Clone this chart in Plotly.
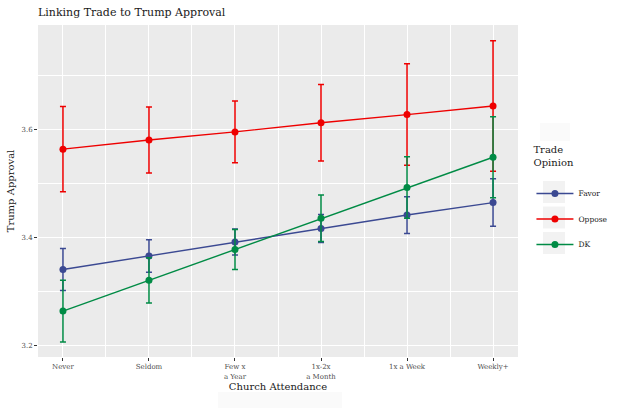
import plotly.graph_objects as go

categories = ["Never", "Seldom", "Few x<br>a Year", "1x-2x<br>a Month", "1x a Week", "Weekly+"]
x_pos = [1, 2, 3, 4, 5, 6]

favor = [3.340, 3.365, 3.391, 3.416, 3.441, 3.464]
favor_err = [0.039, 0.030, 0.024, 0.026, 0.034, 0.044]

oppose = [3.563, 3.580, 3.595, 3.612, 3.627, 3.643]
oppose_err = [0.079, 0.061, 0.057, 0.071, 0.094, 0.121]

dk = [3.263, 3.320, 3.377, 3.435, 3.492, 3.548]
dk_err = [0.057, 0.042, 0.037, 0.043, 0.057, 0.075]

series = [
    ("Favor", favor, favor_err, "#3B4992"),
    ("Oppose", oppose, oppose_err, "#EE0000"),
    ("DK", dk, dk_err, "#008B45"),
]

FONT = "DejaVu Serif"
L, R, T, B = 38, 518, 25, 357


def px(xp):
    return (xp - L) / (R - L)


def py(yp):
    return (B - yp) / (B - T)


fig = go.Figure()
for i, (name, vals, errs, col) in enumerate(series):
    fig.add_trace(go.Scatter(
        x=x_pos, y=vals, name=name, mode="lines+markers",
        line=dict(color=col, width=1.4),
        marker=dict(color=col, size=7),
        error_y=dict(type="data", array=errs, visible=True, color=col,
                     thickness=1.5, width=3),
        legendgroup=name,
    ))

shapes = []
# legend key backgrounds
for yc in [192, 217.5, 243]:
    shapes.append(dict(type="rect", xref="paper", yref="paper",
                       x0=px(543), x1=px(565), y0=py(yc + 11), y1=py(yc - 11),
                       fillcolor="#F2F2F2", line=dict(width=0), layer="below"))
# faint boxes
shapes.append(dict(type="rect", xref="paper", yref="paper",
                   x0=px(540), x1=px(570), y0=py(141), y1=py(123),
                   fillcolor="#FAFAFA", line=dict(width=0), layer="below"))
shapes.append(dict(type="rect", xref="paper", yref="paper",
                   x0=px(218), x1=px(342), y0=py(408), y1=py(392),
                   fillcolor="#FAFAFA", line=dict(width=0), layer="below"))

fig.update_layout(
    width=624, height=416,
    margin=dict(l=L, r=624 - R, t=T, b=416 - B, autoexpand=False),
    paper_bgcolor="white",
    plot_bgcolor="#EBEBEB",
    font=dict(family=FONT, color="#1a1a1a"),
    title=dict(text="Linking Trade to Trump Approval", x=38/624, xanchor="left",
               y=1 - 12/416, yanchor="middle", font=dict(size=11, color="#1a1a1a")),
    showlegend=True,
    legend=dict(
        title=dict(text="Trade<br>Opinion<br> ", font=dict(size=10, color="#1a1a1a")),
        x=1.028, xanchor="left", y=py(140), yanchor="top",
        font=dict(size=7.5, color="#1a1a1a"),
        bgcolor="rgba(0,0,0,0)", traceorder="grouped", tracegroupgap=6.5,
        itemwidth=37,
    ),
    shapes=shapes,
)

fig.update_xaxes(
    range=[0.71, 6.29], tickvals=x_pos, ticktext=categories,
    showgrid=True, gridcolor="white", gridwidth=1.2,
    minor=dict(tickvals=[1.5, 2.5, 3.5, 4.5, 5.5], showgrid=True, gridcolor="white", gridwidth=0.6),
    ticks="outside", ticklen=3, tickcolor="#333333", tickwidth=1,
    tickfont=dict(size=7, color="#4D4D4D"),
    title=dict(text="Church Attendance", font=dict(size=10, color="#1a1a1a"), standoff=2),
    zeroline=False, showline=False, automargin=False,
)
fig.update_yaxes(
    range=[3.178, 3.793], tickvals=[3.2, 3.4, 3.6], ticktext=["3.2", "3.4", "3.6"],
    showgrid=True, gridcolor="white", gridwidth=1.2,
    minor=dict(tickvals=[3.3, 3.5, 3.7], showgrid=True, gridcolor="white", gridwidth=0.6),
    ticks="outside", ticklen=3, tickcolor="#333333", tickwidth=1,
    tickfont=dict(size=7, color="#4D4D4D"),
    title=dict(text="Trump Approval", font=dict(size=10, color="#1a1a1a"), standoff=4),
    zeroline=False, showline=False, automargin=False,
)

fig.write_html("out.html", config={"displayModeBar": False},
               post_script="document.body.style.margin='0px';")
